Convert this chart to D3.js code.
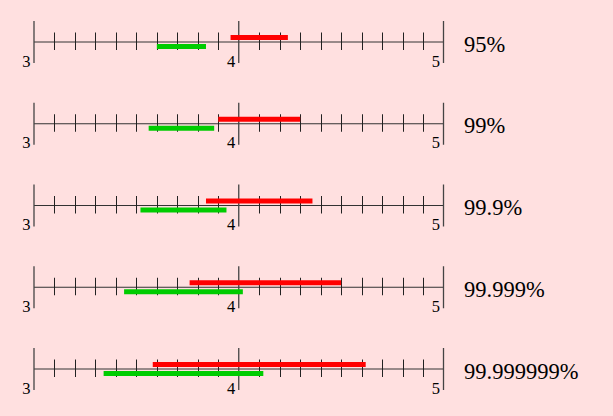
<!DOCTYPE html>
<html>
<head>
<meta charset="utf-8">
<script src="https://cdn.jsdelivr.net/npm/d3@7"></script>
</head>
<body style="margin:0;background:#ffe0e0">
<svg id="chart" width="613" height="416" style="display:block"></svg>
<script>
const levels = ["95%", "99%", "99.9%", "99.999%", "99.999999%"];
const redLow   = [3.96, 3.90, 3.84, 3.76, 3.58];
const redHigh  = [4.24, 4.30, 4.36, 4.50, 4.62];
const greenLow = [3.60, 3.56, 3.52, 3.44, 3.34];
const greenHigh= [3.84, 3.88, 3.94, 4.02, 4.12];
const majorTicks = [3, 4, 5];
const minorTicks = d3.range(31, 50).filter(v => v % 10 !== 0).map(v => v / 10);

const FONT = '"Liberation Serif"';

const svg = d3.select("#chart");
svg.append("rect").attr("width", 613).attr("height", 416).attr("fill", "#ffe0e0");

const x = d3.scaleLinear().domain([3, 5]).range([34, 443.5]);
const y = d3.scalePoint().domain(levels).range([42, 369]);

const rows = svg.selectAll("g.row").data(levels).join("g")
  .attr("class", "row")
  .attr("transform", d => `translate(0,${y(d)})`);

rows.append("line")
  .attr("x1", x(3)).attr("x2", x(5))
  .attr("y1", 0).attr("y2", 0)
  .attr("stroke", "#333").attr("stroke-width", 1);

rows.each(function() {
  const g = d3.select(this);
  g.selectAll("line.minor").data(minorTicks).join("line")
    .attr("class", "minor")
    .attr("x1", d => Math.round(x(d)) + 0.5).attr("x2", d => Math.round(x(d)) + 0.5)
    .attr("y1", -9.5).attr("y2", 8)
    .attr("stroke", "#222").attr("stroke-width", 1);
  g.selectAll("line.major").data(majorTicks).join("line")
    .attr("class", "major")
    .attr("x1", d => x(d)).attr("x2", d => x(d))
    .attr("y1", -21).attr("y2", 21)
    .attr("stroke", "#444").attr("stroke-width", 1.3);
  g.selectAll("text.tick").data(majorTicks).join("text")
    .attr("class", "tick")
    .attr("x", d => x(d) - 3.5)
    .attr("y", 24.5)
    .attr("text-anchor", "end")
    .style("font-family", FONT)
    .style("font-size", "16.5px")
    .attr("fill", "#000")
    .text(d => d);
});

rows.append("line")
  .attr("x1", (d, i) => x(redLow[i])).attr("x2", (d, i) => x(redHigh[i]))
  .attr("y1", -4.5).attr("y2", -4.5)
  .attr("stroke", "#ff0000").attr("stroke-width", 5);

rows.append("line")
  .attr("x1", (d, i) => x(greenLow[i])).attr("x2", (d, i) => x(greenHigh[i]))
  .attr("y1", 4.5).attr("y2", 4.5)
  .attr("stroke", "#00cc00").attr("stroke-width", 5);

rows.append("text")
  .attr("class", "level")
  .attr("x", 464)
  .attr("y", 9.5)
  .style("font-family", FONT)
  .style("font-size", "22.5px")
  .attr("fill", "#000")
  .text(d => d);
</script>
</body>
</html>
